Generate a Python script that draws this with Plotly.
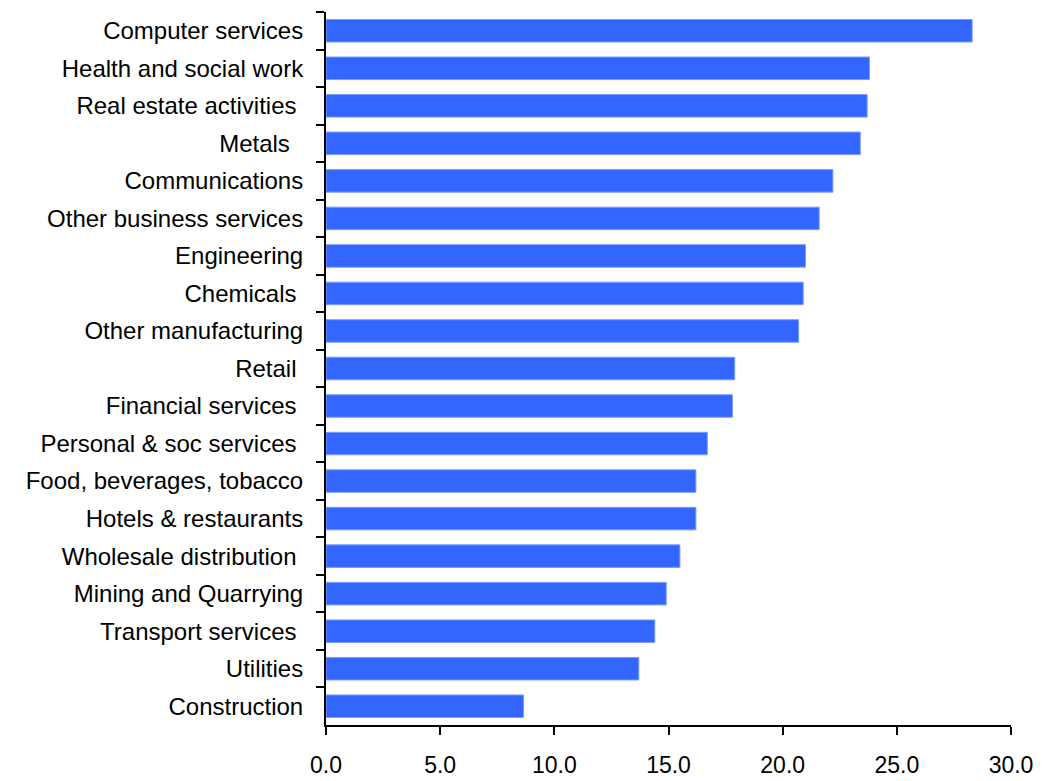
import plotly.graph_objects as go

# Sectors, listed top to bottom as drawn
sectors = [
    "Computer services",
    "Health and social work",
    "Real estate activities\u00a0",
    "Metals\u00a0\u00a0",
    "Communications",
    "Other business services",
    "Engineering",
    "Chemicals\u00a0",
    "Other manufacturing",
    "Retail\u00a0",
    "Financial services\u00a0",
    "Personal & soc services\u00a0",
    "Food, beverages, tobacco",
    "Hotels & restaurants",
    "Wholesale distribution\u00a0",
    "Mining and Quarrying",
    "Transport services\u00a0",
    "Utilities",
    "Construction",
]

values = [
    28.3, 23.8, 23.7, 23.4, 22.2, 21.6, 21.0, 20.9, 20.7, 17.9,
    17.8, 16.7, 16.2, 16.2, 15.5, 14.9, 14.4, 13.7, 8.65,
]

x_ticks = [0, 5, 10, 15, 20, 25, 30]
x_tick_labels = ["0.0", "5.0", "10.0", "15.0", "20.0", "25.0", "30.0"]

fig = go.Figure(
    go.Bar(
        x=values,
        y=sectors,
        orientation="h",
        width=0.6,
        marker=dict(color="#3366FF", line=dict(color="#7C9BFF", width=1)),
        hoverinfo="x+y",
    )
)

font_family = "Liberation Sans, Arial, sans-serif"

fig.update_layout(
    width=1042,
    height=781,
    margin=dict(l=326, r=31, t=12, b=56, pad=0),
    paper_bgcolor="white",
    plot_bgcolor="white",
    showlegend=False,
    font=dict(family=font_family, size=24, color="black"),
    bargap=0.4,
)

fig.update_xaxes(
    range=[0, 30],
    tickvals=x_ticks,
    ticktext=x_tick_labels,
    automargin=False,
    showgrid=False,
    zeroline=False,
    showline=True,
    linecolor="black",
    linewidth=2,
    ticks="outside",
    ticklen=8,
    tickwidth=2,
    tickcolor="black",
    ticklabelstandoff=10,
    tickfont=dict(family=font_family, size=23, color="black"),
)

fig.update_yaxes(
    type="category",
    autorange="reversed",
    automargin=False,
    showgrid=False,
    zeroline=False,
    showline=True,
    linecolor="black",
    linewidth=2,
    ticks="outside",
    tickson="boundaries",
    ticklen=8,
    tickwidth=2,
    tickcolor="black",
    ticklabelstandoff=16,
    tickfont=dict(family=font_family, size=24, color="black"),
)

fig.write_html("out.html")
